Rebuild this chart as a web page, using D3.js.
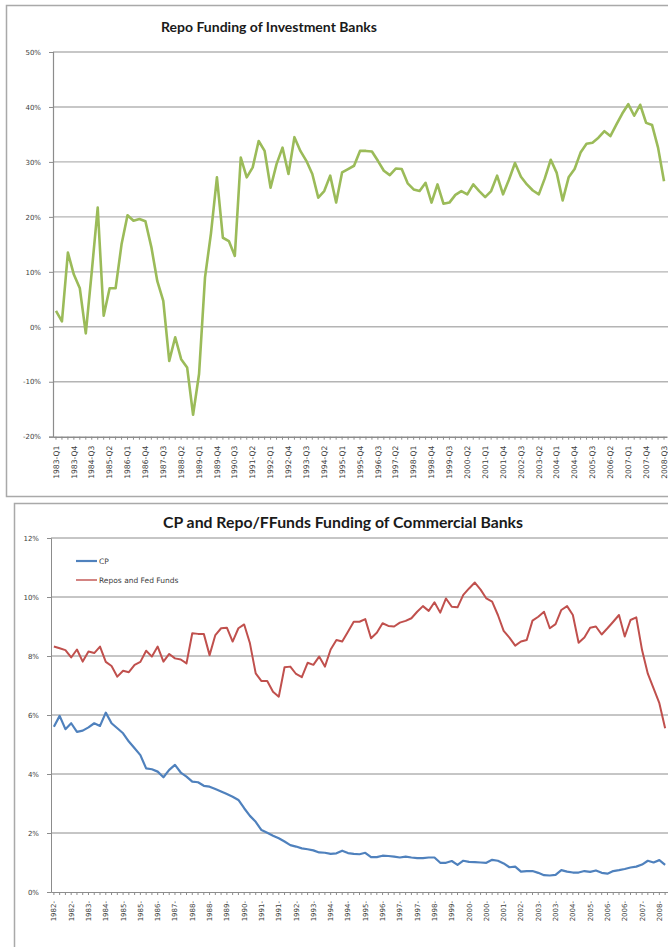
<!DOCTYPE html>
<html>
<head>
<meta charset="utf-8">
<script src="https://cdnjs.cloudflare.com/ajax/libs/d3/7.8.5/d3.min.js"></script>
<style>
  html, body { margin: 0; padding: 0; background: #ffffff; }
  svg { display: block; }
  .title { font-family: Lato, "Open Sans", sans-serif; font-weight: 700; fill: #1a1a1a; }
  .axis text { font-family: "DejaVu Sans", sans-serif; fill: #404040; }
  .axis path, .axis line { stroke: #8c8c8c; }
  .legend text { font-family: "DejaVu Sans", sans-serif; font-size: 7.5px; fill: #404040; }
</style>
</head>
<body>
<svg id="chart" width="668" height="947"></svg>
<script>
// ---------- Repo funding of investment banks (quarterly, 1983-Q1 .. 2008-Q3) ----------
const repoStartYear = 1983;
const repoQuarterCount = 103;
const repoIB = [
  2.9, 1.0, 13.5, 9.5, 7.0, -1.2, 10.0, 21.7, 2.0, 7.0,
  7.0, 15.0, 20.3, 19.3, 19.6, 19.2, 14.5, 8.3, 4.7, -6.2,
  -1.9, -5.9, -7.4, -16.0, -8.6, 9.0, 17.0, 27.2, 16.2, 15.6,
  12.9, 30.8, 27.2, 29.0, 33.8, 32.0, 25.3, 29.6, 32.6, 27.8,
  34.5, 32.0, 30.2, 27.8, 23.5, 24.7, 27.5, 22.6, 28.1, 28.7,
  29.3, 32.0, 32.0, 31.9, 30.2, 28.4, 27.6, 28.8, 28.7, 26.1,
  25.0, 24.7, 26.2, 22.6, 25.9, 22.4, 22.6, 24.0, 24.7, 24.1,
  25.9, 24.7, 23.6, 24.7, 27.5, 24.1, 26.8, 29.8, 27.3, 25.9,
  24.8, 24.1, 27.0, 30.4, 28.0, 23.0, 27.2, 28.7, 31.7, 33.3,
  33.5, 34.4, 35.6, 34.7, 36.8, 38.8, 40.5, 38.4, 40.4, 37.1,
  36.7, 32.6, 26.5
];
const repoTicks = [-20, -10, 0, 10, 20, 30, 40, 50];

// ---------- CP and Repo/Fed Funds funding of commercial banks (quarterly, 1982-Q1 .. 2008-Q3) ----------
const cbStartYear = 1982;
const cbQuarterCount = 107;
const cpFunding = [
  5.60, 5.97, 5.52, 5.72, 5.43, 5.47, 5.58, 5.72, 5.63, 6.08,
  5.72, 5.55, 5.38, 5.10, 4.87, 4.64, 4.19, 4.16, 4.08, 3.89,
  4.14, 4.31, 4.05, 3.91, 3.74, 3.72, 3.60, 3.57, 3.49, 3.41,
  3.32, 3.23, 3.12, 2.84, 2.58, 2.38, 2.10, 2.01, 1.91, 1.82,
  1.71, 1.59, 1.54, 1.48, 1.45, 1.41, 1.34, 1.33, 1.29, 1.31,
  1.40, 1.32, 1.29, 1.28, 1.33, 1.18, 1.18, 1.23, 1.22, 1.20,
  1.17, 1.20, 1.17, 1.15, 1.15, 1.17, 1.17, 0.99, 0.99, 1.05,
  0.92, 1.06, 1.02, 1.01, 1.00, 0.99, 1.09, 1.06, 0.97, 0.84,
  0.86, 0.69, 0.71, 0.71, 0.65, 0.57, 0.56, 0.58, 0.74, 0.69,
  0.66, 0.66, 0.71, 0.68, 0.73, 0.65, 0.62, 0.71, 0.74, 0.78,
  0.83, 0.86, 0.93, 1.06, 1.00, 1.08, 0.92
];
const repoFedFunds = [
  8.32, 8.26, 8.20, 7.95, 8.22, 7.81, 8.15, 8.10, 8.32, 7.80,
  7.66, 7.30, 7.50, 7.45, 7.70, 7.80, 8.18, 7.98, 8.32, 7.81,
  8.07, 7.92, 7.88, 7.75, 8.77, 8.75, 8.75, 8.03, 8.71, 8.94,
  8.96, 8.49, 8.94, 9.07, 8.43, 7.41, 7.15, 7.15, 6.79, 6.62,
  7.62, 7.64, 7.39, 7.28, 7.77, 7.70, 7.98, 7.64, 8.22, 8.54,
  8.49, 8.82, 9.16, 9.16, 9.25, 8.60, 8.79, 9.11, 9.02, 9.00,
  9.13, 9.19, 9.28, 9.50, 9.69, 9.53, 9.82, 9.47, 9.95, 9.67,
  9.65, 10.07, 10.29, 10.49, 10.25, 9.95, 9.84, 9.39, 8.85, 8.62,
  8.35, 8.49, 8.54, 9.20, 9.33, 9.50, 8.94, 9.08, 9.56, 9.69,
  9.39, 8.45, 8.63, 8.96, 9.00, 8.73, 8.94, 9.16, 9.39, 8.66,
  9.22, 9.31, 8.20, 7.40, 6.90, 6.40, 5.55
];
const cbTicks = [0, 2, 4, 6, 8, 10, 12];
const seriesNames = ["CP", "Repos and Fed Funds"];

// quarter categories for each panel
function quarterCategories(startYear, count) {
  const out = [];
  for (let i = 0; i < count; i++) {
    out.push(`${startYear + Math.floor(i / 4)}-Q${(i % 4) + 1}`);
  }
  return out;
}
const repoQuarters = quarterCategories(repoStartYear, repoQuarterCount);
const cbQuarters = quarterCategories(cbStartYear, cbQuarterCount);

const svg = d3.select("#chart");

// ---------- chart frames ----------
svg.append("rect")
  .attr("x", 6.5).attr("y", 5.5).attr("width", 700).attr("height", 491)
  .attr("fill", "#ffffff").attr("stroke", "#a9a9a9").attr("stroke-width", 1.5);
svg.append("rect")
  .attr("x", 14.5).attr("y", 503.5).attr("width", 700).attr("height", 470)
  .attr("fill", "#ffffff").attr("stroke", "#a9a9a9").attr("stroke-width", 1.5);

// ================= Panel 1 =================
const p1 = svg.append("g");
const x1 = d3.scaleBand().domain(repoQuarters).range([53, 667]).paddingInner(0).paddingOuter(0);
const y1 = d3.scaleLinear().domain([-20, 50]).range([436.7, 52]);

p1.append("text").attr("class", "title")
  .attr("x", 269).attr("y", 32).attr("text-anchor", "middle")
  .style("font-size", "14px")
  .text("Repo Funding of Investment Banks");

// gridlines
p1.append("g").selectAll("line").data(repoTicks.filter(t => t !== -20)).join("line")
  .attr("x1", 53).attr("x2", 668)
  .attr("y1", d => y1(d)).attr("y2", d => y1(d))
  .attr("stroke", "#b4b4b4").attr("stroke-width", 1.4);

// y axis
const ax1 = p1.append("g").attr("class", "axis")
  .attr("transform", "translate(53,0)")
  .call(d3.axisLeft(y1).tickValues(repoTicks).tickSize(4).tickPadding(8).tickFormat(d => d + "%"));
ax1.selectAll("text").style("font-size", "7px");

// x axis
const ax1b = p1.append("g").attr("class", "axis")
  .attr("transform", `translate(0,${y1(-20)})`)
  .call(d3.axisBottom(x1).tickSize(3).tickSizeOuter(0)
    .tickFormat((d, i) => (i % 3 === 0 ? d : "")));
ax1b.selectAll("text")
  .style("font-size", "7.6px")
  .attr("text-anchor", "end")
  .attr("transform", "rotate(-90)")
  .attr("x", -9).attr("y", 0).attr("dy", "0.35em");
ax1b.select(".domain").attr("stroke-width", 1.4);
ax1.select(".domain").attr("stroke-width", 1.2);

// series line
const line1 = d3.line()
  .x((d, i) => x1(repoQuarters[i]) + x1.bandwidth() / 2)
  .y(d => y1(d));
p1.append("path").datum(repoIB)
  .attr("d", line1).attr("fill", "none")
  .attr("stroke", "#9bbb59").attr("stroke-width", 2.6)
  .attr("stroke-linejoin", "round");

// ================= Panel 2 =================
const p2 = svg.append("g");
const x2 = d3.scaleBand().domain(cbQuarters).range([51, 668]).paddingInner(0).paddingOuter(0);
const y2 = d3.scaleLinear().domain([0, 12]).range([892, 538]);

p2.append("text").attr("class", "title")
  .attr("x", 343).attr("y", 528).attr("text-anchor", "middle")
  .style("font-size", "15.8px")
  .text("CP and Repo/FFunds Funding of Commercial Banks");

p2.append("g").selectAll("line").data(cbTicks.filter(t => t !== 0)).join("line")
  .attr("x1", 51).attr("x2", 668)
  .attr("y1", d => y2(d)).attr("y2", d => y2(d))
  .attr("stroke", "#8c8c8c").attr("stroke-width", 1);

const ax2 = p2.append("g").attr("class", "axis")
  .attr("transform", "translate(51,0)")
  .call(d3.axisLeft(y2).tickValues(cbTicks).tickSize(4).tickPadding(8).tickFormat(d => d + "%"));
ax2.selectAll("text").style("font-size", "7px");

const ax2b = p2.append("g").attr("class", "axis")
  .attr("transform", `translate(0,${y2(0)})`)
  .call(d3.axisBottom(x2).tickSize(3).tickSizeOuter(0)
    .tickFormat((d, i) => (i % 3 === 0 ? d.slice(0, 4) + "-" : "")));
ax2b.selectAll("text")
  .style("font-size", "7px")
  .attr("text-anchor", "end")
  .attr("transform", "rotate(-90)")
  .attr("x", -9).attr("y", 0).attr("dy", "0.35em");

const line2 = d3.line()
  .x((d, i) => x2(cbQuarters[i]) + x2.bandwidth() / 2)
  .y(d => y2(d));

const colors = ["#4f81bd", "#c0504d"];
p2.append("path").datum(repoFedFunds)
  .attr("d", line2).attr("fill", "none")
  .attr("stroke", colors[1]).attr("stroke-width", 2)
  .attr("stroke-linejoin", "round");
p2.append("path").datum(cpFunding)
  .attr("d", line2).attr("fill", "none")
  .attr("stroke", colors[0]).attr("stroke-width", 2.2)
  .attr("stroke-linejoin", "round");

// legend
const legend = p2.append("g").attr("class", "legend");
seriesNames.forEach((name, i) => {
  const ly = 561 + i * 19;
  legend.append("line")
    .attr("x1", 76).attr("x2", 97).attr("y1", ly).attr("y2", ly)
    .attr("stroke", colors[i]).attr("stroke-width", i === 0 ? 2.2 : 1.4);
  legend.append("text").attr("x", 99).attr("y", ly).attr("dy", "0.35em").text(name);
});
</script>
</body>
</html>
